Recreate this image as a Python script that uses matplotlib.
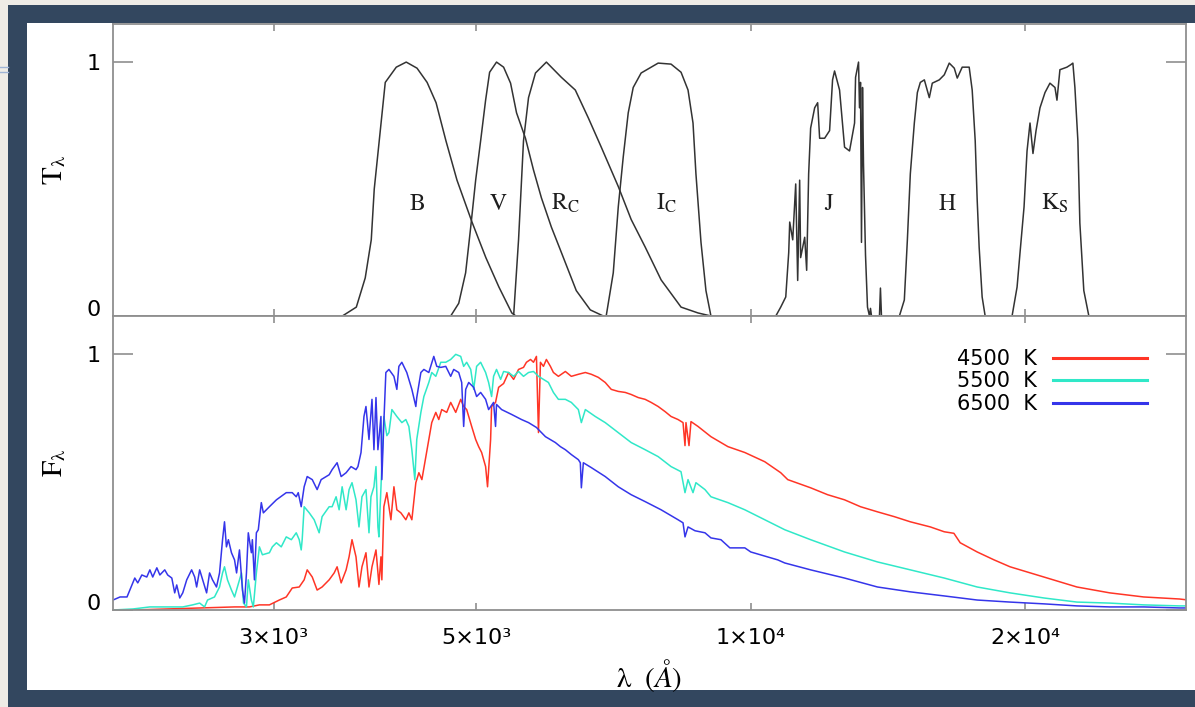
import matplotlib.pyplot as plt
from matplotlib.patches import Rectangle
from matplotlib.lines import Line2D
from matplotlib.ticker import FixedLocator, NullLocator

plt.rcParams['mathtext.fontset'] = 'stix'

# filter transmission curves, wavelength in Angstrom, peak normalised to 1
b_wl = [3568, 3696, 3780, 3838, 3867, 3916, 3976, 4088, 4192, 4308, 4419, 4520,
        4634, 4765, 4949, 5125, 5297, 5472, 5528]
b_tr = [0, 0.035, 0.15, 0.30, 0.50, 0.69, 0.92, 0.98, 1.0, 0.976, 0.92, 0.84,
        0.69, 0.535, 0.37, 0.23, 0.114, 0.012, 0]

v_wl = [4690, 4786, 4870, 4933, 4995, 5058, 5122, 5174, 5265, 5360, 5455, 5538,
        5664, 5780, 5897, 6047, 6186, 6439, 6671, 6893]
v_tr = [0, 0.05, 0.17, 0.35, 0.535, 0.69, 0.85, 0.96, 1.0, 0.98, 0.917, 0.80,
        0.70, 0.575, 0.465, 0.35, 0.26, 0.10, 0.024, 0]

r_wl = [5497, 5566, 5636, 5708, 5809, 5971, 6201, 6423, 6638, 6858, 7159, 7396,
        7661, 7977, 8388, 8755, 9045]
r_tr = [0, 0.30, 0.69, 0.86, 0.957, 1.0, 0.94, 0.89, 0.78, 0.665, 0.51, 0.38,
        0.272, 0.142, 0.035, 0.012, 0]

i_wl = [6944, 7069, 7159, 7249, 7341, 7434, 7584, 7917, 8179, 8388, 8537, 8645,
        8709, 8821, 8932, 9045]
i_tr = [0, 0.17, 0.43, 0.626, 0.80, 0.90, 0.957, 0.996, 0.992, 0.96, 0.89, 0.76,
        0.56, 0.29, 0.10, 0]

j_wl = [10654, 10787, 10925, 11007, 11035, 11119, 11203, 11259, 11315, 11343,
        11460, 11517, 11575, 11633, 11752, 11841, 11900, 12051, 12203, 12295,
        12357, 12514, 12673, 12833, 12997, 13030, 13128, 13160, 13193, 13226,
        13260, 13293, 13361, 13428, 13495, 13530, 13565, 13840, 13874, 13910]
j_tr = [0, 0.035, 0.075, 0.25, 0.37, 0.30, 0.52, 0.14, 0.535, 0.23,
        0.31, 0.18, 0.56, 0.74, 0.82, 0.84, 0.70, 0.70, 0.73, 0.93,
        0.965, 0.89, 0.665, 0.65, 0.76, 0.94, 1.0, 0.82, 0.92, 0.29,
        0.90, 0.60, 0.24, 0.035, 0, 0.03, 0, 0, 0.11, 0]

h_wl = [14554, 14736, 14850, 14961, 15113, 15229, 15343, 15500, 15695, 15814,
        16095, 16300, 16505, 16716, 16842, 17054, 17357, 17489, 17623, 17711,
        17800, 17934, 18071]
h_tr = [0, 0.063, 0.30, 0.56, 0.76, 0.88, 0.92, 0.93, 0.86, 0.917,
        0.93, 0.95, 0.996, 0.976, 0.937, 0.98, 0.98, 0.89, 0.69, 0.457,
        0.27, 0.075, 0]

k_wl = [19341, 19587, 19734, 19935, 20086, 20237, 20389, 20547, 20753, 21017,
        21281, 21553, 21661, 21824, 22213, 22437, 22549, 22665, 22836, 22950,
        23180, 23477]
k_tr = [0, 0.114, 0.25, 0.43, 0.65, 0.76, 0.64, 0.73, 0.82, 0.88,
        0.917, 0.90, 0.85, 0.97, 0.98, 0.99, 0.996, 0.90, 0.69, 0.366,
        0.10, 0]

band_names = [r'$\mathrm{B}$', r'$\mathrm{V}$', r'$\mathrm{R_C}$', r'$\mathrm{I_C}$',
              r'$\mathrm{J}$', r'$\mathrm{H}$', r'$\mathrm{K_S}$']
band_label_wl = [4308, 5293, 6264, 8077, 12203, 16423, 21553]

# model spectra, normalised flux
t6500_wl = [2000, 2036, 2072, 2098, 2113, 2129, 2151, 2178, 2195, 2211, 2234, 2251,
            2279, 2296, 2320, 2337, 2349, 2367, 2385, 2409, 2439, 2458, 2470, 2489,
            2508, 2533, 2552, 2571, 2597, 2617, 2637, 2650, 2663, 2676, 2697, 2718,
            2732, 2752, 2773, 2787, 2801, 2814, 2836, 2843, 2858, 2872, 2886, 2908,
            2923, 2945, 2968, 3021, 3097, 3144, 3176, 3192, 3216, 3240, 3265, 3307,
            3348, 3382, 3451, 3477, 3521, 3557, 3602, 3647, 3693, 3711, 3740, 3768,
            3787, 3816, 3845, 3864, 3884, 3903, 3933, 3942, 3962, 3982, 4013, 4064,
            4094, 4115, 4146, 4198, 4252, 4295, 4305, 4350, 4383, 4438, 4494, 4528,
            4574, 4632, 4690, 4726, 4786, 4822, 4846, 4871, 4908, 4970, 5007, 5058,
            5122, 5161, 5226, 5252, 5265, 5333, 5469, 5608, 5708, 5823, 5882, 5957,
            6108, 6186, 6264, 6359, 6473, 6505, 6522, 6555, 6688, 6927, 7159, 7396,
            7661, 7976, 8325, 8430, 8472, 8537, 8688, 8910, 9045, 9276, 9488, 9853,
            10002, 10707, 10897, 11633, 12672, 13771, 14961, 16298, 17711, 19243,
            20963, 22779, 24750, 26961, 29518, 30000]
t6500_fl = [0.039, 0.051, 0.051, 0.098, 0.125, 0.106, 0.137, 0.129, 0.157, 0.129, 0.165, 0.137,
            0.157, 0.137, 0.125, 0.067, 0.098, 0.047, 0.067, 0.118, 0.157, 0.129, 0.090, 0.157,
            0.118, 0.067, 0.145, 0.118, 0.090, 0.145, 0.275, 0.345, 0.247, 0.275, 0.224, 0.196,
            0.145, 0.235, 0.078, 0.027, 0.145, 0.302, 0.224, 0.275, 0.118, 0.302, 0.314, 0.420,
            0.380, 0.392, 0.404, 0.431, 0.459, 0.459, 0.443, 0.459, 0.404, 0.482, 0.522, 0.510,
            0.471, 0.510, 0.529, 0.549, 0.576, 0.522, 0.537, 0.561, 0.549, 0.561, 0.616, 0.757,
            0.796, 0.667, 0.824, 0.627, 0.831, 0.627, 0.757, 0.510, 0.735, 0.929, 0.941, 0.914,
            0.863, 0.953, 0.969, 0.929, 0.863, 0.796, 0.831, 0.929, 0.941, 0.929, 0.992, 0.953,
            0.949, 0.953, 0.914, 0.941, 0.929, 0.890, 0.718, 0.863, 0.890, 0.871, 0.835, 0.851,
            0.824, 0.784, 0.812, 0.718, 0.804, 0.784, 0.765, 0.745, 0.733, 0.714, 0.698, 0.678,
            0.655, 0.639, 0.627, 0.608, 0.588, 0.576, 0.478, 0.576, 0.557, 0.522, 0.482, 0.451,
            0.424, 0.392, 0.353, 0.341, 0.286, 0.325, 0.310, 0.302, 0.282, 0.275, 0.243, 0.243,
            0.227, 0.196, 0.184, 0.157, 0.125, 0.090, 0.071, 0.055, 0.039, 0.031,
            0.024, 0.016, 0.012, 0.012, 0.008, 0.008]

t5500_wl = [2000, 2103, 2195, 2291, 2385, 2445, 2489, 2520, 2539, 2584, 2617, 2637,
            2650, 2670, 2697, 2718, 2738, 2766, 2780, 2801, 2814, 2836, 2850, 2872,
            2894, 2916, 2968, 2990, 3021, 3058, 3097, 3137, 3176, 3200, 3216, 3224,
            3240, 3282, 3323, 3365, 3390, 3451, 3477, 3512, 3539, 3566, 3602, 3629,
            3656, 3693, 3721, 3749, 3787, 3816, 3835, 3864, 3884, 3903, 3913, 3933,
            3962, 3992, 4013, 4043, 4094, 4146, 4188, 4220, 4252, 4284, 4305, 4350,
            4383, 4438, 4471, 4517, 4574, 4632, 4690, 4750, 4810, 4846, 4883, 4933,
            4970, 5007, 5058, 5122, 5161, 5200, 5226, 5265, 5320, 5360, 5428, 5497,
            5566, 5636, 5708, 5780, 5853, 5927, 6002, 6078, 6155, 6264, 6359, 6473,
            6522, 6588, 6755, 6927, 7159, 7396, 7661, 7917, 8179, 8387, 8472, 8537,
            8645, 8709, 8910, 9045, 9441, 9853, 10361, 10897, 11633, 12672, 13771, 14961,
            16298, 17711, 19243, 20963, 22779, 24750, 26961, 29518, 30000]
t5500_fl = [0.0, 0.004, 0.012, 0.012, 0.012, 0.020, 0.027, 0.012, 0.039, 0.051, 0.090, 0.145,
            0.169, 0.118, 0.078, 0.051, 0.090, 0.145, 0.027, 0.012, 0.118, 0.039, 0.012, 0.145,
            0.247, 0.216, 0.224, 0.247, 0.263, 0.247, 0.286, 0.275, 0.302, 0.275, 0.235, 0.275,
            0.404, 0.380, 0.353, 0.302, 0.365, 0.404, 0.404, 0.443, 0.392, 0.482, 0.392, 0.471,
            0.498, 0.431, 0.325, 0.443, 0.471, 0.302, 0.443, 0.482, 0.561, 0.325, 0.286, 0.482,
            0.757, 0.682, 0.694, 0.784, 0.757, 0.733, 0.745, 0.718, 0.627, 0.510, 0.667, 0.773,
            0.835, 0.890, 0.929, 0.914, 0.969, 0.969, 0.980, 1.0, 0.992, 0.953, 0.969, 0.941,
            0.863, 0.953, 0.969, 0.929, 0.890, 0.835, 0.914, 0.941, 0.902, 0.933, 0.929, 0.914,
            0.933, 0.914, 0.929, 0.933, 0.914, 0.902, 0.890, 0.851, 0.824, 0.824, 0.812, 0.784,
            0.733, 0.784, 0.757, 0.733, 0.694, 0.655, 0.627, 0.600, 0.561, 0.541, 0.459, 0.510,
            0.459, 0.498, 0.471, 0.443, 0.420, 0.392, 0.353, 0.314, 0.275, 0.227, 0.188, 0.157,
            0.125, 0.090, 0.067, 0.047, 0.031, 0.027, 0.020, 0.016, 0.016]

t4500_wl = [2000, 2103, 2291, 2489, 2718, 2822, 2894, 2968, 3043, 3097, 3144, 3200,
            3240, 3265, 3307, 3348, 3390, 3451, 3495, 3521, 3557, 3602, 3629, 3656,
            3693, 3721, 3749, 3787, 3816, 3845, 3884, 3913, 3933, 3942, 3962, 3992,
            4033, 4064, 4094, 4136, 4188, 4220, 4252, 4295, 4328, 4361, 4405, 4438,
            4471, 4517, 4551, 4585, 4643, 4690, 4750, 4810, 4846, 4883, 4945, 4995,
            5033, 5071, 5122, 5147, 5187, 5200, 5252, 5293, 5360, 5428, 5497, 5566,
            5636, 5678, 5737, 5780, 5823, 5853, 5882, 5927, 5971, 6032, 6078, 6155,
            6264, 6359, 6473, 6588, 6688, 6807, 6927, 7033, 7159, 7286, 7396, 7528,
            7661, 7778, 7917, 8057, 8179, 8325, 8430, 8472, 8493, 8558, 8601, 8755,
            9045, 9441, 9853, 10361, 10787, 10980, 11633, 12142, 12672, 13193, 13771, 14372,
            14961, 15734, 16298, 16700, 16968, 17711, 18483, 19243, 20086, 20963, 21823, 22779,
            23773, 24750, 26961, 29518, 30000]
t4500_fl = [0.0, 0.0, 0.004, 0.008, 0.012, 0.012, 0.020, 0.020, 0.039, 0.051, 0.086, 0.090,
            0.118, 0.157, 0.129, 0.078, 0.090, 0.118, 0.145, 0.169, 0.106, 0.157, 0.208, 0.275,
            0.208, 0.090, 0.169, 0.224, 0.090, 0.169, 0.235, 0.100, 0.208, 0.118, 0.404, 0.459,
            0.353, 0.482, 0.392, 0.380, 0.353, 0.380, 0.353, 0.498, 0.537, 0.510, 0.600, 0.667,
            0.733, 0.773, 0.745, 0.784, 0.773, 0.812, 0.773, 0.824, 0.796, 0.784, 0.718, 0.667,
            0.639, 0.616, 0.561, 0.482, 0.667, 0.796, 0.812, 0.871, 0.886, 0.929, 0.902, 0.941,
            0.949, 0.969, 0.980, 0.969, 0.992, 0.694, 0.969, 0.953, 0.980, 0.953, 0.929, 0.914,
            0.933, 0.914, 0.922, 0.929, 0.922, 0.910, 0.890, 0.863, 0.855, 0.851, 0.843, 0.831,
            0.824, 0.812, 0.796, 0.776, 0.757, 0.745, 0.733, 0.643, 0.733, 0.643, 0.737, 0.718,
            0.678, 0.639, 0.616, 0.580, 0.537, 0.510, 0.478, 0.451, 0.431, 0.404, 0.384, 0.365,
            0.345, 0.325, 0.306, 0.300, 0.263, 0.227, 0.196, 0.169, 0.149, 0.129, 0.110, 0.090,
            0.078, 0.067, 0.051, 0.043, 0.040]

temp_labels = ['4500  K', '5500  K', '6500  K']
temp_colors = ['#ff3526', '#30e8c8', '#3535ea']

navy = '#33475f'
grey = '#8f8f8f'

fig = plt.figure(figsize=(11.95, 7.07), dpi=100)
fig.patch.set_facecolor(navy)

# page background strips and the white card behind the plot
fig.add_artist(Rectangle((0, 0), 8 / 1195, 1, transform=fig.transFigure,
                         facecolor='#efece6', edgecolor='none', zorder=-2))
fig.add_artist(Rectangle((0, 1 - 5 / 707), 1, 5 / 707, transform=fig.transFigure,
                         facecolor='#efece6', edgecolor='none', zorder=-2))
fig.add_artist(Rectangle((27 / 1195, 1 - 690 / 707), 1, 667 / 707, transform=fig.transFigure,
                         facecolor='white', edgecolor='none', zorder=-1))
for yy in (67, 72):
    fig.add_artist(Line2D([0, 8 / 1195], [1 - yy / 707] * 2, transform=fig.transFigure,
                          color='#9fb4d6', lw=1))

left = 113 / 1195
width = 1073 / 1195
ax1 = fig.add_axes([left, 1 - 316 / 707, width, 292 / 707])
ax2 = fig.add_axes([left, 1 - 610 / 707, width, 294 / 707])

filters = [(b_wl, b_tr), (v_wl, v_tr), (r_wl, r_tr), (i_wl, i_tr),
           (j_wl, j_tr), (h_wl, h_tr), (k_wl, k_tr)]
for wl, tr in filters:
    ax1.plot(wl, tr, color='#333333', lw=1.1)

for name, wl in zip(band_names, band_label_wl):
    ax1.text(wl, 0.445, name, ha='center', va='center', fontsize=17, color='#1e1e1e')

spectra = [(t4500_wl, t4500_fl), (t5500_wl, t5500_fl), (t6500_wl, t6500_fl)]
for (wl, fl), col, lab in zip(spectra, temp_colors, temp_labels):
    ax2.plot(wl, fl, color=col, lw=1.1, label=lab)

for ax in (ax1, ax2):
    ax.set_xscale('log')
    ax.set_xlim(2000, 30000)
    ax.set_ylim(0, 1.15)
    ax.xaxis.set_major_locator(FixedLocator([3000, 5000, 10000, 20000]))
    ax.xaxis.set_minor_locator(NullLocator())
    ax.yaxis.set_major_locator(FixedLocator([0, 1]))
    ax.yaxis.set_minor_locator(NullLocator())
    ax.set_yticklabels(['0', '1'])
    ax.tick_params(axis='x', which='major', direction='in', top=True, bottom=True,
                   length=5, width=1.2, color=grey, labelsize=16, pad=13)
    ax.tick_params(axis='y', which='major', direction='in', left=True, right=True,
                   length=14.5, width=1.2, color=grey, labelsize=16, pad=9)
    for sp in ax.spines.values():
        sp.set_color(grey)
        sp.set_linewidth(1.3)
    ax.get_yticklabels()[0].set_verticalalignment('baseline')

ax1.set_xticklabels([])
ax2.set_xticklabels(['3×10³', '5×10³', '1×10⁴', '2×10⁴'])

ax1.set_ylabel(r'$\mathrm{T_{\lambda}}$', fontsize=21)
ax2.set_ylabel(r'$\mathrm{F_{\lambda}}$', fontsize=21)
ax1.yaxis.set_label_coords(-0.042, 0.5)
ax2.yaxis.set_label_coords(-0.042, 0.5)
ax2.set_xlabel(r'$\mathrm{\lambda}\ \ (\AA)$', fontsize=21)
ax2.xaxis.set_label_coords(0.5, -0.16)

ax2.legend(loc='upper right', bbox_to_anchor=(0.9637, 0.888), frameon=False,
           markerfirst=False, fontsize=15, handlelength=4.5, handletextpad=0.8,
           labelspacing=0.12, borderpad=0, borderaxespad=0)
for ln in ax2.get_legend().get_lines():
    ln.set_linewidth(2.2)

fig.savefig('out.png', dpi=100, facecolor=fig.get_facecolor())
